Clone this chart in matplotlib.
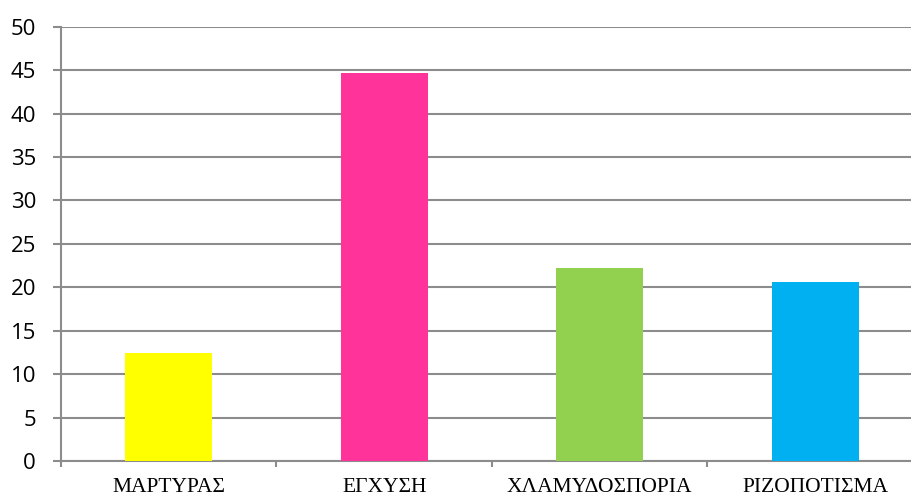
import matplotlib
matplotlib.use("Agg")
import matplotlib.pyplot as plt

categories = ["ΜΑΡΤΥΡΑΣ", "ΕΓΧΥΣΗ", "ΧΛΑΜΥΔΟΣΠΟΡΙΑ", "ΡΙΖΟΠΟΤΙΣΜΑ"]
values = [12.4, 44.65, 22.2, 20.6]
colors = ["#FFFF00", "#FF3399", "#92D050", "#00B0F0"]
yticks = [0, 5, 10, 15, 20, 25, 30, 35, 40, 45, 50]

fig = plt.figure(figsize=(9.12, 4.97), dpi=100)
ax = fig.add_axes([61 / 912, 36 / 497, 862 / 912, 434.3 / 497])

x = list(range(len(categories)))
ax.bar(x, values, width=0.404, color=colors, zorder=3)

ax.set_xlim(-0.5, len(categories) - 0.5)
ax.set_ylim(0, 50)
ax.set_yticks(yticks)
ax.set_yticklabels([str(v) for v in yticks], fontfamily="Open Sans", fontsize=16)
ax.yaxis.grid(True, color="#8c8c8c", linewidth=1.5, zorder=0)

# category labels centred between boundary ticks
ax.set_xticks(x)
ax.set_xticklabels(categories, fontfamily="Liberation Serif", fontsize=15.5)
ax.tick_params(axis="x", length=0, pad=12)
ax.set_xticks([i + 0.5 for i in range(len(categories) - 1)] + [-0.5], minor=True)
ax.tick_params(axis="x", which="minor", length=4.5, color="#8c8c8c", width=1.5, direction="out")
ax.tick_params(axis="y", length=6, color="#8c8c8c", width=1.5, direction="out", pad=12)

for side in ["top", "right"]:
    ax.spines[side].set_visible(False)
for side in ["left", "bottom"]:
    ax.spines[side].set_color("#8c8c8c")
    ax.spines[side].set_linewidth(1.5)

fig.savefig("out.png", dpi=100)
